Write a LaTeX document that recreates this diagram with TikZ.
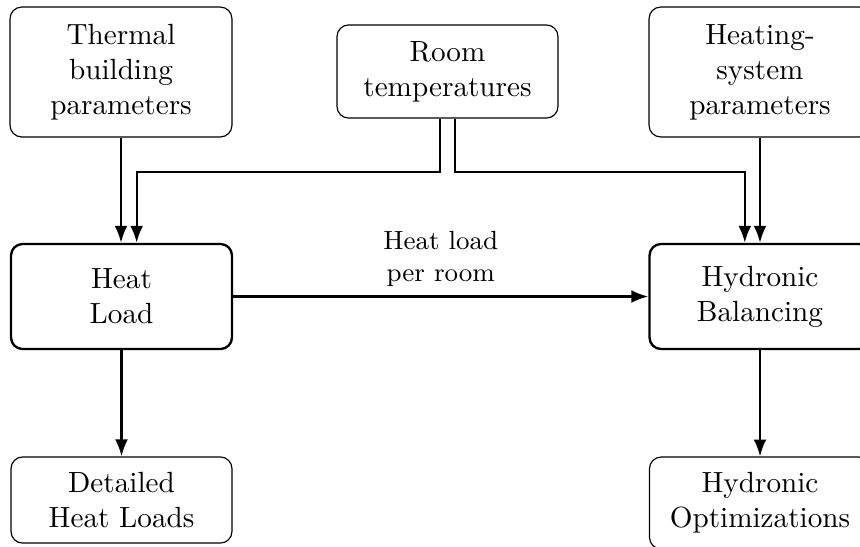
\documentclass[tikz,border=0pt]{standalone}
\usetikzlibrary{arrows.meta}
\begin{document}
\begin{tikzpicture}[x=0.3425pt,y=-0.3425pt,
  infobox/.style={draw,rounded corners=4pt,line width=0.4pt,align=center,inner sep=0pt},
  mainbox/.style={draw,rounded corners=4pt,line width=0.8pt,align=center,inner sep=0pt},
  arr/.style={line width=0.8pt,-{Latex[length=5.8pt,width=4.4pt]}}]
\useasboundingbox (0,0) rectangle (860,546);

% input boxes
\node[infobox,minimum width=76pt,minimum height=44.5pt] (thermal) at (121,72)
  {Thermal\\building\\parameters};
\node[infobox,minimum width=75.7pt,minimum height=31.9pt] (room) at (447.5,71.5)
  {Room\\temperatures};
\node[infobox,minimum width=76pt,minimum height=44.5pt] (heating) at (760,72)
  {Heating-\\system\\parameters};

% computation steps
\node[mainbox,minimum width=75.7pt,minimum height=36pt] (heatload) at (121.5,296.5)
  {Heat\\Load};
\node[mainbox,minimum width=75.7pt,minimum height=36pt] (hydbal) at (760,296.5)
  {Hydronic\\Balancing};

% results
\node[infobox,minimum width=75.7pt,minimum height=29.5pt] (detailed) at (121.5,500)
  {Detailed\\Heat Loads};
\node[infobox,minimum width=75.7pt,minimum height=31.5pt] (hydopt) at (760,503)
  {Hydronic\\Optimizations};

% data flow
\draw[arr] (thermal.south) -- (thermal.south |- heatload.north);
\draw[arr] (heating.south) -- (heating.south |- hydbal.north);
\draw[arr] ([xshift=-2.57pt]room.south) -- ++(0,53.5) -| ([xshift=5.2pt]heatload.north);
\draw[arr] ([xshift=2.57pt]room.south) -- ++(0,53.5) -| ([xshift=-5.2pt]hydbal.north);
\draw[arr] (heatload.east) -- node[above=-0.5pt,align=center,font=\small] {Heat load\\per room} (hydbal.west);
\draw[arr] (heatload.south) -- (heatload.south |- detailed.north);
\draw[arr] (hydbal.south) -- (hydbal.south |- hydopt.north);
\end{tikzpicture}
\end{document}
